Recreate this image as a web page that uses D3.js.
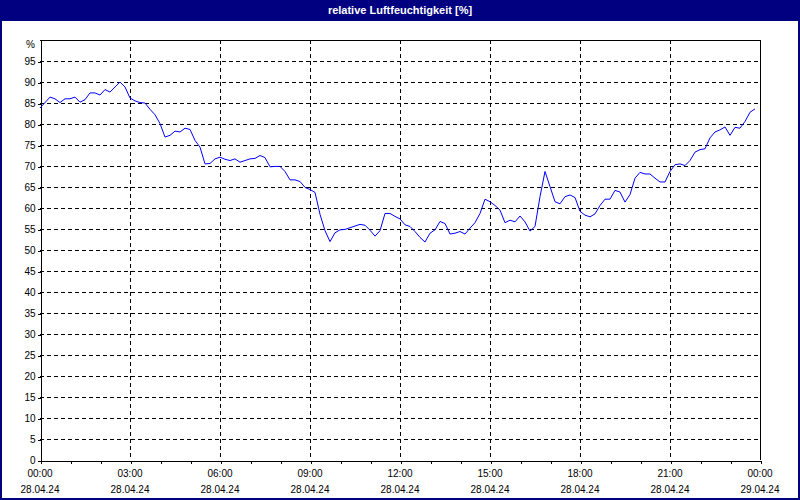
<!DOCTYPE html>
<html>
<head>
<meta charset="utf-8">
<script src="https://cdn.jsdelivr.net/npm/d3@7"></script>
<style>
  html, body { margin: 0; padding: 0; background: #ffffff; }
  svg { display: block; }
  text { font-family: "Liberation Sans", Arial, sans-serif; }
</style>
</head>
<body>
<svg id="chart" width="800" height="500"></svg>
<script>
const title = "relative Luftfeuchtigkeit [%]";
const unitLabel = "%";
const startDate = "2024-04-28T00:00";
const endDate = "2024-04-29T00:00";
const yTicks = [0,5,10,15,20,25,30,35,40,45,50,55,60,65,70,75,80,85,90,95];

// sample times (HH:MM on 28.04.24)
const times = [
  "00:00","00:20","00:30","00:40","00:50","01:00","01:10","01:20","01:30","01:40","01:50",
  "02:00","02:10","02:20","02:40","02:50","03:00","03:10","03:20","03:30","03:40","03:50",
  "04:00","04:10","04:20","04:30","04:40","04:50","05:00","05:10","05:20","05:30","05:40","05:50",
  "06:00","06:10","06:20","06:30","06:40","06:50","07:00","07:10","07:20","07:30","07:40","07:50",
  "08:00","08:10","08:20","08:30","08:40","08:50","09:00","09:10","09:20","09:30","09:40","09:50",
  "10:00","10:10","10:20","10:30","10:40","10:50","11:00","11:10","11:20","11:30","11:40","11:50",
  "12:00","12:10","12:20","12:30","12:40","12:50","13:00","13:10","13:20","13:30","13:40","13:50",
  "14:00","14:10","14:20","14:30","14:40","14:50","15:00","15:10","15:20","15:30","15:40","15:50",
  "16:00","16:10","16:20","16:30","16:40","16:50","17:00","17:10","17:20","17:30","17:40","17:50",
  "18:00","18:10","18:20","18:30","18:40","18:50","19:00","19:10","19:20","19:30","19:40","19:50",
  "20:00","20:10","20:20","20:30","20:40","20:50","21:00","21:10","21:20","21:30","21:40","21:50",
  "22:00","22:10","22:20","22:30","22:40","22:50","23:00","23:10","23:20","23:30","23:40","23:50"
];
const humidity = [
  83.8,86.4,86.0,85.1,86.0,86.0,86.4,85.2,85.8,87.4,87.4,
  86.9,88.2,87.6,90.0,88.8,86.2,85.5,85.1,85.0,83.5,82.2,
  80.1,76.9,77.3,78.3,78.1,79.0,78.7,76.1,74.5,70.5,70.6,71.7,
  72.1,71.6,71.3,71.7,70.9,71.3,71.7,71.8,72.5,72.0,69.8,69.9,
  69.9,68.7,66.7,66.7,66.3,64.9,64.4,63.7,58.5,54.6,52.0,54.1,
  54.8,54.9,55.3,55.7,56.1,55.9,54.7,53.3,54.6,58.7,58.7,58.0,
  57.4,56.0,55.6,54.4,53.0,51.9,54.0,54.8,56.8,56.3,53.8,54.0,
  54.4,53.8,55.2,56.5,58.7,62.1,61.5,60.6,59.5,56.5,57.1,56.7,
  58.1,56.7,54.5,55.6,62.7,68.7,65.1,61.5,61.0,62.7,63.1,62.5,
  59.2,58.3,57.9,58.6,60.6,62.1,62.1,64.2,63.8,61.4,63.2,67.1,
  68.5,68.1,68.1,67.1,66.2,66.2,68.7,70.3,70.5,70.1,71.3,73.3,
  73.9,74.1,76.7,78.1,78.6,79.3,77.3,79.2,79.0,80.6,82.8,83.6
];

const W = 800, H = 500;
const plot = {left: 40, right: 760, top: 40, bottom: 460};
const svg = d3.select("#chart");

// frame + title bar
svg.append("rect").attr("x", 0).attr("y", 0).attr("width", W).attr("height", H).attr("fill", "#000080");
svg.append("rect").attr("x", 2).attr("y", 21).attr("width", W - 4).attr("height", H - 23).attr("fill", "#ffffff");
svg.append("text").attr("x", W / 2).attr("y", 14).attr("text-anchor", "middle")
  .attr("fill", "#ffffff").attr("font-size", "11px").attr("font-weight", "bold").text(title);

const parse = d3.timeParse("%Y-%m-%dT%H:%M");
const data = times.map((t, i) => ({t: parse("2024-04-28T" + t), v: humidity[i]}));

const x = d3.scaleTime().domain([parse(startDate), parse(endDate)]).range([plot.left, plot.right]);
const y = d3.scaleLinear().domain([0, 100]).range([plot.bottom, plot.top]);

// horizontal grid
svg.append("g").selectAll("line").data(yTicks.filter(d => d > 0)).join("line")
  .attr("x1", plot.left).attr("x2", plot.right)
  .attr("y1", d => Math.round(y(d)) + 0.5).attr("y2", d => Math.round(y(d)) + 0.5)
  .attr("stroke", "#000").attr("stroke-dasharray", "4,3").attr("shape-rendering", "crispEdges");

// vertical grid every 3 hours
const vTicks = x.ticks(d3.timeHour.every(3)).filter(d => +d > +x.domain()[0] && +d < +x.domain()[1]);
svg.append("g").selectAll("line").data(vTicks).join("line")
  .attr("x1", d => Math.round(x(d)) + 0.5).attr("x2", d => Math.round(x(d)) + 0.5)
  .attr("y1", plot.top).attr("y2", plot.bottom)
  .attr("stroke", "#000").attr("stroke-dasharray", "4,3").attr("shape-rendering", "crispEdges");

// border top/right
svg.append("path").attr("d", `M${plot.left},${plot.top + 0.5}H${plot.right + 0.5}V${plot.bottom}`)
  .attr("fill", "none").attr("stroke", "#000").attr("shape-rendering", "crispEdges");

// y axis
const yAxis = svg.append("g").attr("transform", `translate(${plot.left + 0.5},0.5)`)
  .call(d3.axisLeft(y).tickValues(yTicks).tickSize(3).tickSizeOuter(0).tickPadding(2));
yAxis.selectAll("text").attr("font-size", "10px").attr("fill", "#000").attr("font-family", "Liberation Sans, Arial, sans-serif");
yAxis.selectAll("line,path").attr("stroke", "#000").attr("shape-rendering", "crispEdges");
svg.append("text").attr("x", 35).attr("y", 48).attr("text-anchor", "end")
  .attr("font-size", "10px").attr("fill", "#000").text(unitLabel);

// x axis: hourly ticks, labels every 3h
const fmtT = d3.timeFormat("%H:%M"), fmtD = d3.timeFormat("%d.%m.%y");
const xAxis = svg.append("g").attr("transform", `translate(0.5,${plot.bottom + 0.5})`)
  .call(d3.axisBottom(x).ticks(d3.timeHour.every(1)).tickSize(3).tickSizeOuter(0).tickFormat(""));
xAxis.selectAll("line,path").attr("stroke", "#000").attr("shape-rendering", "crispEdges");
const labTicks = x.ticks(d3.timeHour.every(3));
const lab = svg.append("g").selectAll("g").data(labTicks).join("g")
  .attr("transform", d => `translate(${x(d)},0)`);
lab.append("text").attr("y", 477).attr("text-anchor", "middle").attr("font-size", "10px").attr("fill", "#000").text(d => fmtT(d));
lab.append("text").attr("y", 493).attr("text-anchor", "middle").attr("font-size", "10px").attr("fill", "#000").text(d => fmtD(d));

// line
const line = d3.line().x(d => x(d.t)).y(d => y(d.v));
svg.append("path").datum(data).attr("d", line)
  .attr("fill", "none").attr("stroke", "#0000ff").attr("stroke-width", 1);
</script>
</body>
</html>
